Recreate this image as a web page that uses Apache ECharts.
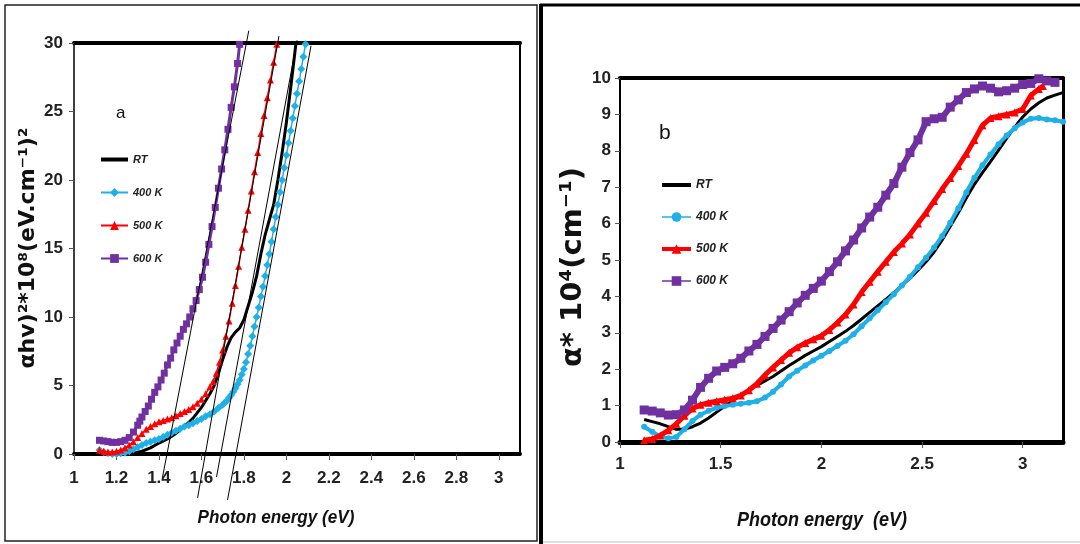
<!DOCTYPE html>
<html>
<head>
<meta charset="utf-8">
<script src="https://cdn.jsdelivr.net/npm/echarts@6/dist/echarts.min.js"></script>
<style>
  html, body { margin: 0; padding: 0; background: #fff; }
  #chart { width: 1080px; height: 544px; }
</style>
</head>
<body>
<div id="chart"></div>
<script>
// ---- Panel (a): (αhν)² ×10⁸ vs photon energy ----
const aRT = [[1.12,0.1],[1.16,0.05],[1.20,0.0],[1.24,0.0],[1.28,0.05],[1.32,0.2],[1.36,0.45],[1.40,0.8],[1.44,1.1],[1.48,1.5],[1.52,2.0],[1.56,2.6],[1.60,3.4],[1.64,4.4],[1.66,5.0],[1.68,5.9],[1.70,6.9],[1.72,7.8],[1.74,8.5],[1.76,8.9],[1.78,9.2],[1.80,9.8],[1.82,10.8],[1.84,11.8],[1.86,13.0],[1.88,14.6],[1.90,16.0],[1.92,17.1],[1.94,18.2],[1.96,20.0],[1.98,22.0],[2.00,24.2],[2.02,26.7],[2.04,29.3],[2.045,30]];
const a400 = [[1.12,0.3],[1.14,0.15],[1.16,0.05],[1.18,0.0],[1.20,0.0],[1.22,0.05],[1.24,0.1],[1.26,0.2],[1.28,0.35],[1.30,0.5],[1.32,0.65],[1.34,0.8],[1.36,0.9],[1.38,1.0],[1.40,1.1],[1.42,1.25],[1.44,1.4],[1.46,1.55],[1.48,1.7],[1.50,1.85],[1.52,2.0],[1.54,2.1],[1.56,2.25],[1.58,2.4],[1.60,2.55],[1.62,2.75],[1.64,2.9],[1.66,3.1],[1.68,3.35],[1.70,3.6],[1.71,3.75],[1.72,3.9],[1.73,4.1],[1.74,4.3],[1.75,4.55],[1.76,4.8],[1.77,5.1],[1.78,5.4],[1.79,5.8],[1.80,6.2],[1.81,6.7],[1.82,7.3],[1.83,7.9],[1.84,8.6],[1.85,9.3],[1.86,10.0],[1.87,10.7],[1.88,11.5],[1.89,12.2],[1.90,13.0],[1.91,13.8],[1.92,14.6],[1.93,15.5],[1.94,16.4],[1.95,17.3],[1.96,18.2],[1.97,19.1],[1.98,20.0],[1.99,20.9],[2.00,21.8],[2.01,22.7],[2.02,23.6],[2.03,24.5],[2.04,25.4],[2.05,26.3],[2.06,27.2],[2.07,28.1],[2.08,29.0],[2.09,29.9]];
const a500 = [[1.12,0.3],[1.14,0.2],[1.16,0.15],[1.18,0.15],[1.20,0.2],[1.22,0.3],[1.24,0.45],[1.26,0.65],[1.28,0.9],[1.30,1.2],[1.32,1.5],[1.34,1.8],[1.36,2.0],[1.38,2.2],[1.40,2.35],[1.42,2.45],[1.44,2.55],[1.46,2.65],[1.48,2.8],[1.50,2.95],[1.52,3.1],[1.54,3.25],[1.56,3.45],[1.58,3.7],[1.60,4.0],[1.62,4.4],[1.64,4.9],[1.655,5.3],[1.67,5.9],[1.685,6.7],[1.70,7.6],[1.715,8.6],[1.73,9.7],[1.745,11.0],[1.76,12.3],[1.775,13.7],[1.79,15.1],[1.805,16.4],[1.82,17.8],[1.835,19.2],[1.85,20.6],[1.865,22.0],[1.88,23.4],[1.895,24.7],[1.91,26.0],[1.925,27.3],[1.94,28.6],[1.955,29.9]];
const a600 = [[1.12,1.0],[1.14,0.95],[1.16,0.9],[1.18,0.85],[1.20,0.85],[1.22,0.9],[1.24,1.0],[1.26,1.2],[1.28,1.6],[1.30,2.1],[1.31,2.4],[1.32,2.7],[1.335,3.1],[1.35,3.5],[1.365,4.0],[1.38,4.5],[1.395,4.9],[1.41,5.4],[1.425,5.9],[1.44,6.5],[1.455,7.0],[1.47,7.6],[1.485,8.1],[1.50,8.6],[1.515,9.1],[1.53,9.5],[1.545,10.0],[1.56,10.6],[1.575,11.2],[1.59,12.0],[1.605,12.9],[1.62,14.0],[1.635,15.3],[1.65,16.6],[1.665,18.0],[1.68,19.4],[1.695,20.8],[1.71,22.2],[1.725,23.7],[1.74,25.3],[1.755,26.8],[1.77,28.5],[1.78,29.9]];
// straight-line extrapolations of the absorption edges
const fit600 = [[1.416,-1.75],[1.823,30.9]];
const fit500 = [[1.582,-3.2],[1.965,30.5]];
const fitRT  = [[1.671,-1.68],[2.05,30.2]];
const fit400 = [[1.723,-3.35],[2.116,29.8]];

// ---- Panel (b): α ×10⁴ vs photon energy ----
const bRT = [[1.12,0.62],[1.16,0.56],[1.20,0.50],[1.24,0.42],[1.28,0.35],[1.32,0.35],[1.36,0.42],[1.40,0.52],[1.44,0.66],[1.48,0.82],[1.52,0.98],[1.56,1.14],[1.60,1.28],[1.64,1.42],[1.68,1.55],[1.72,1.68],[1.76,1.80],[1.80,1.95],[1.84,2.10],[1.88,2.24],[1.92,2.38],[1.96,2.50],[2.00,2.62],[2.04,2.76],[2.08,2.90],[2.12,3.04],[2.16,3.20],[2.20,3.38],[2.24,3.56],[2.28,3.74],[2.32,3.92],[2.36,4.10],[2.40,4.30],[2.44,4.50],[2.48,4.72],[2.52,4.95],[2.56,5.22],[2.60,5.55],[2.64,5.92],[2.68,6.30],[2.72,6.70],[2.76,7.08],[2.80,7.40],[2.84,7.70],[2.88,8.02],[2.92,8.34],[2.96,8.65],[3.00,8.93],[3.04,9.15],[3.08,9.32],[3.12,9.45],[3.16,9.53],[3.20,9.60]];
const b400 = [[1.12,0.42],[1.16,0.28],[1.20,0.15],[1.24,0.10],[1.28,0.14],[1.32,0.35],[1.36,0.58],[1.40,0.75],[1.44,0.86],[1.48,0.94],[1.52,0.99],[1.56,1.02],[1.60,1.05],[1.64,1.08],[1.68,1.12],[1.72,1.22],[1.76,1.38],[1.80,1.58],[1.84,1.80],[1.88,1.96],[1.92,2.10],[1.96,2.24],[2.00,2.37],[2.04,2.50],[2.08,2.64],[2.12,2.78],[2.16,2.96],[2.20,3.18],[2.24,3.40],[2.28,3.62],[2.32,3.84],[2.36,4.06],[2.40,4.30],[2.44,4.54],[2.48,4.80],[2.52,5.06],[2.56,5.34],[2.60,5.66],[2.64,6.02],[2.68,6.42],[2.72,6.86],[2.76,7.26],[2.80,7.60],[2.84,7.90],[2.88,8.18],[2.92,8.42],[2.96,8.62],[3.00,8.78],[3.04,8.88],[3.08,8.90],[3.12,8.86],[3.16,8.84],[3.20,8.80]];
const b500 = [[1.12,0.05],[1.16,0.08],[1.20,0.18],[1.24,0.32],[1.28,0.50],[1.32,0.72],[1.36,0.92],[1.40,1.02],[1.44,1.08],[1.48,1.12],[1.52,1.16],[1.56,1.20],[1.60,1.28],[1.64,1.42],[1.68,1.60],[1.72,1.84],[1.76,2.05],[1.80,2.25],[1.84,2.45],[1.88,2.60],[1.92,2.72],[1.96,2.82],[2.00,2.92],[2.04,3.08],[2.08,3.28],[2.12,3.50],[2.16,3.78],[2.20,4.12],[2.24,4.40],[2.28,4.68],[2.32,4.95],[2.36,5.22],[2.40,5.45],[2.44,5.70],[2.48,6.00],[2.52,6.30],[2.56,6.62],[2.60,6.95],[2.64,7.25],[2.68,7.58],[2.72,7.92],[2.76,8.30],[2.80,8.70],[2.84,8.90],[2.88,8.95],[2.92,9.00],[2.96,9.05],[3.00,9.15],[3.04,9.52],[3.08,9.70],[3.10,9.78]];
const b600 = [[1.12,0.88],[1.16,0.85],[1.20,0.80],[1.24,0.74],[1.28,0.75],[1.32,0.88],[1.36,1.15],[1.40,1.50],[1.44,1.75],[1.48,1.95],[1.52,2.05],[1.56,2.15],[1.60,2.30],[1.64,2.50],[1.68,2.68],[1.72,2.90],[1.76,3.12],[1.80,3.35],[1.84,3.58],[1.88,3.82],[1.92,4.03],[1.96,4.22],[2.00,4.42],[2.04,4.68],[2.08,4.95],[2.12,5.25],[2.16,5.55],[2.20,5.88],[2.24,6.18],[2.28,6.45],[2.32,6.78],[2.36,7.10],[2.40,7.55],[2.44,7.95],[2.48,8.30],[2.52,8.80],[2.56,8.88],[2.60,8.92],[2.64,9.20],[2.68,9.40],[2.72,9.60],[2.76,9.70],[2.80,9.78],[2.84,9.72],[2.88,9.62],[2.92,9.65],[2.96,9.72],[3.00,9.82],[3.04,9.85],[3.08,9.98],[3.12,9.92],[3.16,9.88]];

const seriesNames = ['RT', '400 K', '500 K', '600 K'];

const NARROW = "'Liberation Sans Narrow', 'Arial Narrow', 'Liberation Sans', Arial, sans-serif";
const WIDE = "'DejaVu Sans', Verdana, sans-serif";
const PURPLE = '#7030a0', BLUE = '#1fb0e8', RED = '#ff0000', BLACK = '#000';

function axisLabelStyle(margin) {
  return { fontFamily: NARROW, fontSize: 17, fontWeight: 'bold', color: '#222', margin: margin, showMaxLabel: false };
}
function frameAxis(grid, pos, width, min, max) {
  return { type: 'value', gridIndex: grid, position: pos, min: min, max: max,
    axisLine: { show: true, onZero: false, lineStyle: { color: '#000', width: width } },
    axisTick: { show: false }, axisLabel: { show: false }, splitLine: { show: false } };
}

const chart = echarts.init(document.getElementById('chart'), null, { renderer: 'canvas' });

function lineSeries(name, data, xi, yi, color, symbol, size, width, z) {
  return { name: name, type: 'line', data: data, xAxisIndex: xi, yAxisIndex: yi,
    symbol: symbol, symbolSize: size, showSymbol: symbol !== 'none',
    lineStyle: { color: color, width: width }, itemStyle: { color: color, borderWidth: 0 },
    z: z, animation: false, emphasis: { disabled: true } };
}
function fitSeries(data) {
  return { type: 'line', data: data, xAxisIndex: 0, yAxisIndex: 0, symbol: 'none', clip: false,
    lineStyle: { color: '#000', width: 1 }, z: 10, silent: true, animation: false };
}

const legendText = { fontFamily: NARROW, fontStyle: 'italic', fontWeight: 'bold', fontSize: 11, color: '#222' };

chart.setOption({
  backgroundColor: '#fff',
  animation: false,
  grid: [
    { left: 74, top: 43, width: 446, height: 411 },
    { left: 620, top: 78, width: 443, height: 364 }
  ],
  xAxis: [
    { type: 'value', gridIndex: 0, min: 1, max: 3.1, interval: 0.2, position: 'bottom',
      axisLine: { onZero: false, lineStyle: { color: '#000', width: 4 } },
      axisTick: { length: 6, lineStyle: { color: '#555', width: 1 } },
      axisLabel: axisLabelStyle(16), splitLine: { show: false } },
    frameAxis(0, 'top', 4, 1, 3.1),
    { type: 'value', gridIndex: 1, min: 1, max: 3.2, interval: 0.5, position: 'bottom',
      axisLine: { onZero: false, lineStyle: { color: '#000', width: 5 } },
      axisTick: { length: 6, lineStyle: { color: '#555', width: 1 } },
      axisLabel: axisLabelStyle(14), splitLine: { show: false } },
    frameAxis(1, 'top', 4, 1, 3.2)
  ],
  yAxis: [
    { type: 'value', gridIndex: 0, min: 0, max: 30, interval: 5, position: 'left',
      axisLine: { show: true, onZero: false, lineStyle: { color: '#000', width: 1.5 } },
      axisTick: { show: true, length: 5, lineStyle: { color: '#555', width: 1 } },
      axisLabel: Object.assign(axisLabelStyle(11), { showMaxLabel: true }), splitLine: { show: false } },
    frameAxis(0, 'right', 2, 0, 30),
    { type: 'value', gridIndex: 1, min: 0, max: 10, interval: 1, position: 'left',
      axisLine: { show: true, onZero: false, lineStyle: { color: '#000', width: 2 } },
      axisTick: { show: true, length: 5, lineStyle: { color: '#555', width: 1 } },
      axisLabel: Object.assign(axisLabelStyle(9), { showMaxLabel: true }), splitLine: { show: false } },
    frameAxis(1, 'right', 3, 0, 10)
  ],
  legend: [
    { data: [
        { name: 'a RT', icon: 'path://M0,0H27V4H0Z' },
        { name: 'a 400 K' }, { name: 'a 500 K' }, { name: 'a 600 K' }
      ],
      formatter: n => n.slice(2), orient: 'vertical',
      left: 95, top: 149, itemWidth: 27, itemHeight: 11, itemGap: 22, textStyle: legendText,
      selectedMode: false },
    { data: [
        { name: 'b RT', icon: 'path://M0,0H29V4H0Z' },
        { name: 'b 400 K', lineStyle: { width: 1.5 } },
        { name: 'b 500 K', lineStyle: { width: 4 } },
        { name: 'b 600 K', lineStyle: { width: 1.5 } }
      ],
      formatter: n => n.slice(2), orient: 'vertical',
      left: 655, top: 174, itemWidth: 29, itemHeight: 12, itemGap: 20,
      textStyle: Object.assign({}, legendText, { fontSize: 12 }), selectedMode: false }
  ],
  series: [
    lineSeries('a RT', aRT, 0, 0, BLACK, 'none', 0, 3, 2),
    lineSeries('a 400 K', a400, 0, 0, BLUE, 'diamond', 8, 1.5, 3),
    lineSeries('a 500 K', a500, 0, 0, RED, 'triangle', 7, 1.5, 4),
    lineSeries('a 600 K', a600, 0, 0, PURPLE, 'rect', 7, 3, 5),
    fitSeries(fit600), fitSeries(fit500), fitSeries(fitRT), fitSeries(fit400),
    lineSeries('b RT', bRT, 2, 2, BLACK, 'none', 0, 3, 2),
    lineSeries('b 400 K', b400, 2, 2, BLUE, 'circle', 6, 4, 3),
    lineSeries('b 500 K', b500, 2, 2, RED, 'triangle', 8, 5, 4),
    lineSeries('b 600 K', b600, 2, 2, PURPLE, 'rect', 9, 6, 5)
  ],
  graphic: [
    // panel frames
    { type: 'rect', shape: { x: 5, y: 5, width: 532, height: 536 }, style: { fill: null, stroke: '#222', lineWidth: 1.5 }, silent: true },
    { type: 'line', shape: { x1: 540, y1: 5, x2: 1080, y2: 5 }, style: { stroke: '#000', lineWidth: 3 }, silent: true },
    { type: 'line', shape: { x1: 541, y1: 4, x2: 541, y2: 544 }, style: { stroke: '#000', lineWidth: 4 }, silent: true },
    { type: 'line', shape: { x1: 543, y1: 542, x2: 1080, y2: 542 }, style: { stroke: '#bbb', lineWidth: 1 }, silent: true },
    // panel tags
    { type: 'text', left: 116, top: 105, style: { text: 'a', font: '17px ' + NARROW, fill: '#111' } },
    { type: 'text', left: 659, top: 123, style: { text: 'b', font: '21px ' + NARROW, fill: '#111' } },
    // axis titles
    { type: 'text', x: 276, y: 518, scaleX: 0.9, style: { text: 'Photon energy (eV)', font: 'italic bold 19px ' + NARROW, fill: '#111', align: 'center', verticalAlign: 'middle' } },
    { type: 'text', x: 822, y: 520, scaleX: 0.9, style: { text: 'Photon energy  (eV)', font: 'italic bold 20px ' + NARROW, fill: '#111', align: 'center', verticalAlign: 'middle' } },
    { type: 'text', x: 28, y: 248, rotation: Math.PI / 2, style: { text: 'αhv)²*10⁸(eV.cm⁻¹)²', font: 'bold 22px ' + WIDE, fill: '#111', align: 'center', verticalAlign: 'middle' } },
    { type: 'text', x: 573, y: 267, rotation: Math.PI / 2, style: { text: 'α* 10⁴(cm⁻¹)', font: 'bold 29px ' + WIDE, fill: '#111', align: 'center', verticalAlign: 'middle' } }
  ]
});
</script>
</body>
</html>
